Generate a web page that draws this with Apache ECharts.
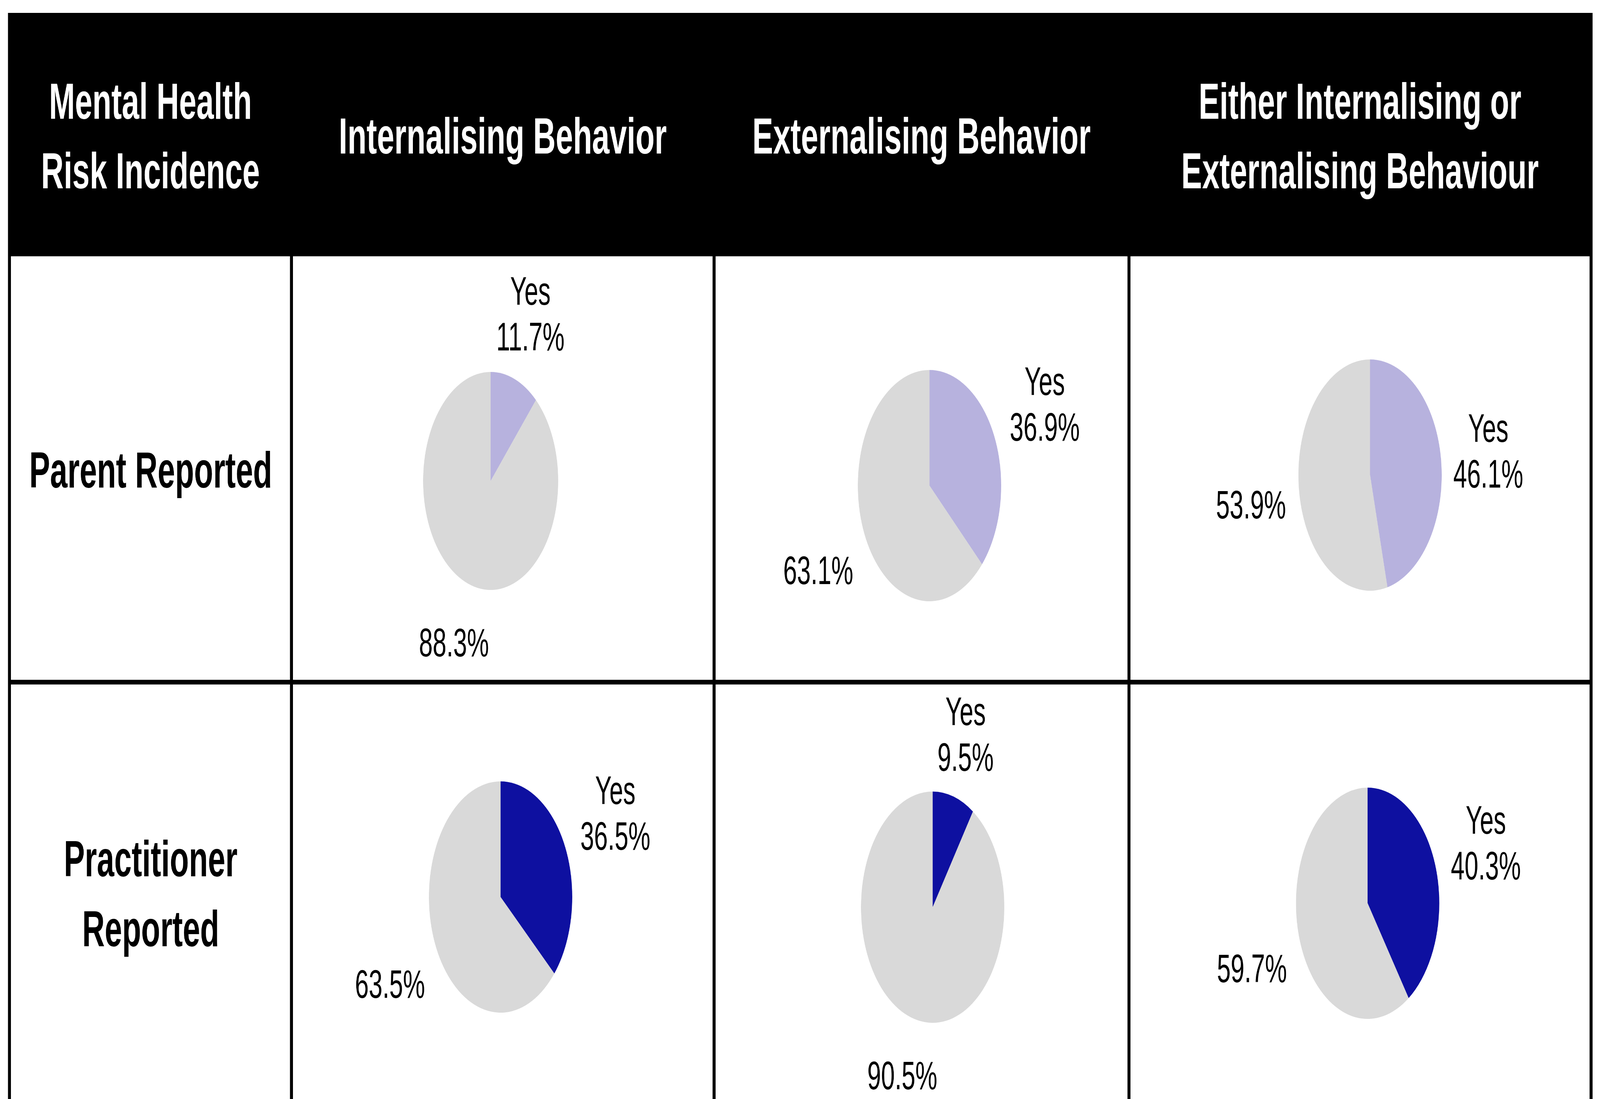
<!DOCTYPE html>
<html>
<head>
<meta charset="utf-8">
<script src="https://cdn.jsdelivr.net/npm/echarts@6/dist/echarts.min.js"></script>
<style>
  html, body { margin: 0; padding: 0; background: #ffffff; overflow: hidden; }
  #chart { position: absolute; left: 0; top: 0; width: 6610px; height: 2813px; transform-origin: 0 0; }
</style>
</head>
<body>
<div id="chart"></div>
<script>
// ---------------- data ----------------
const cornerLabel = 'Mental Health\nRisk Incidence';
const columnLabels = ['Internalising Behavior', 'Externalising Behavior', 'Either Internalising or\nExternalising Behaviour'];
const rowLabels = ['Parent Reported', 'Practitioner\nReported'];
const sliceNames = ['Yes', 'No'];
const parentYes = [11.7, 36.9, 46.1];
const parentNo = [88.3, 63.1, 53.9];
const practitionerYes = [36.5, 9.5, 40.3];
const practitionerNo = [63.5, 90.5, 59.7];

// ---------------- layout / style (design units: 6610 x 2813) ----------------
const DESIGN_W = 6610, DESIGN_H = 2813;
const FONT = '"Liberation Sans", Arial, sans-serif';
const tableLeft = 39, tableRight = 6573;
const headerTop = 33, headerBottom = 656, rowDivider = 1746, tableBottom = 2840;
const colDividers = [1204, 2950, 4664];
const lineW = 12;
const yesColors = ['#B7B2DE', '#0E10A0'];
const noColor = '#D9D9D9';
const pieLayout = [
  [{ c: [2027, 1231], r: 279 }, { c: [3840, 1243], r: 296 }, { c: [5660, 1216], r: 296 }],
  [{ c: [2068, 2296], r: 296 }, { c: [3853, 2322], r: 296 }, { c: [5650, 2312], r: 296 }]
];
// Excel-like outside-end label placement (distance beyond the rim + small nudges)
const labelFit = {
  multi: { c: -59, a: 237, b: 163, ex: 0, ey: 0 },
  single: { c: 43, a: 156, b: 65, ex: 6, ey: 16 }
};
const textNudgeY = 6;

const yesRows = [parentYes, practitionerYes];
const noRows = [parentNo, practitionerNo];

// fit the design box to the real viewport
const el = document.getElementById('chart');
const sx = (window.innerWidth || DESIGN_W) / DESIGN_W;
const sy = (window.innerHeight || DESIGN_H) / DESIGN_H;
el.style.transform = 'scale(' + sx + ',' + sy + ')';

const colEdges = [tableLeft].concat(colDividers).concat([tableRight]);
const colCenters = [];
for (let i = 0; i < colEdges.length - 1; i++) colCenters.push((colEdges[i] + colEdges[i + 1]) / 2);

// ---------------- graphics (table) ----------------
const graphics = [];
graphics.push({
  type: 'rect', silent: true,
  shape: { x: headerTop, y: headerTop, width: tableRight + lineW / 2 - headerTop, height: headerBottom - headerTop },
  style: { fill: '#000000' }
});
colEdges.forEach(function (x) {
  graphics.push({ type: 'line', silent: true,
    shape: { x1: x, y1: headerBottom - 2, x2: x, y2: tableBottom },
    style: { stroke: '#000000', lineWidth: lineW } });
});
graphics.push({ type: 'line', silent: true,
  shape: { x1: tableLeft - lineW / 2, y1: rowDivider, x2: tableRight + lineW / 2, y2: rowDivider },
  style: { stroke: '#000000', lineWidth: lineW } });

const headerTexts = [cornerLabel].concat(columnLabels);
headerTexts.forEach(function (t, i) {
  graphics.push({ type: 'text', silent: true, x: colCenters[i], y: 357,
    style: { text: t, fill: '#ffffff', fontSize: 129, fontWeight: 'bold', fontFamily: FONT,
      align: 'center', verticalAlign: 'middle', lineHeight: 178 } });
});
rowLabels.forEach(function (t, i) {
  graphics.push({ type: 'text', silent: true, x: colCenters[0] + 1, y: i === 0 ? 1212 : 2297,
    style: { text: t, fill: '#000000', fontSize: 129, fontWeight: 'bold', fontFamily: FONT,
      align: 'center', verticalAlign: 'middle', lineHeight: 179 } });
});

// ---------------- pies ----------------
function makeLabelLayout(rowIdx, colIdx) {
  const pl = pieLayout[rowIdx][colIdx];
  const vals = [yesRows[rowIdx][colIdx], noRows[rowIdx][colIdx]];
  return function (params) {
    const i = params.dataIndex;
    const total = vals[0] + vals[1];
    let cum = 0;
    for (let k = 0; k < i; k++) cum += vals[k];
    const ang = (cum + vals[i] / 2) / total * 2 * Math.PI;
    const dx = Math.sin(ang), dy = -Math.cos(ang);
    const multi = String(params.text).indexOf('\n') >= 0;
    const k = multi ? labelFit.multi : labelFit.single;
    const d = pl.r + k.c + k.a * Math.abs(dx) + k.b * Math.abs(dy);
    return {
      x: pl.c[0] + dx * d + k.ex,
      y: pl.c[1] + dy * d + k.ey * Math.abs(dx) + textNudgeY,
      align: 'center', verticalAlign: 'middle'
    };
  };
}

const series = [];
for (let r = 0; r < 2; r++) {
  for (let c = 0; c < 3; c++) {
    const pl = pieLayout[r][c];
    series.push({
      type: 'pie',
      silent: true,
      animation: false,
      center: pl.c,
      radius: pl.r,
      startAngle: 90,
      clockwise: true,
      avoidLabelOverlap: false,
      label: {
        show: true,
        position: 'outside',
        color: '#000000',
        fontSize: 102,
        fontFamily: FONT,
        fontWeight: 'normal',
        lineHeight: 117,
        align: 'center',
        formatter: function (p) {
          return p.name === 'Yes' ? p.name + '\n' + p.value + '%' : p.value + '%';
        }
      },
      labelLine: { show: false },
      labelLayout: makeLabelLayout(r, c),
      itemStyle: { borderWidth: 0 },
      emphasis: { disabled: true },
      data: [
        { name: sliceNames[0], value: yesRows[r][c], itemStyle: { color: yesColors[r] } },
        { name: sliceNames[1], value: noRows[r][c], itemStyle: { color: noColor } }
      ]
    });
  }
}

const chart = echarts.init(el, null, { renderer: 'canvas', width: DESIGN_W, height: DESIGN_H });
chart.setOption({
  backgroundColor: '#ffffff',
  animation: false,
  tooltip: { show: false },
  graphic: { elements: graphics },
  series: series
});
</script>
</body>
</html>
